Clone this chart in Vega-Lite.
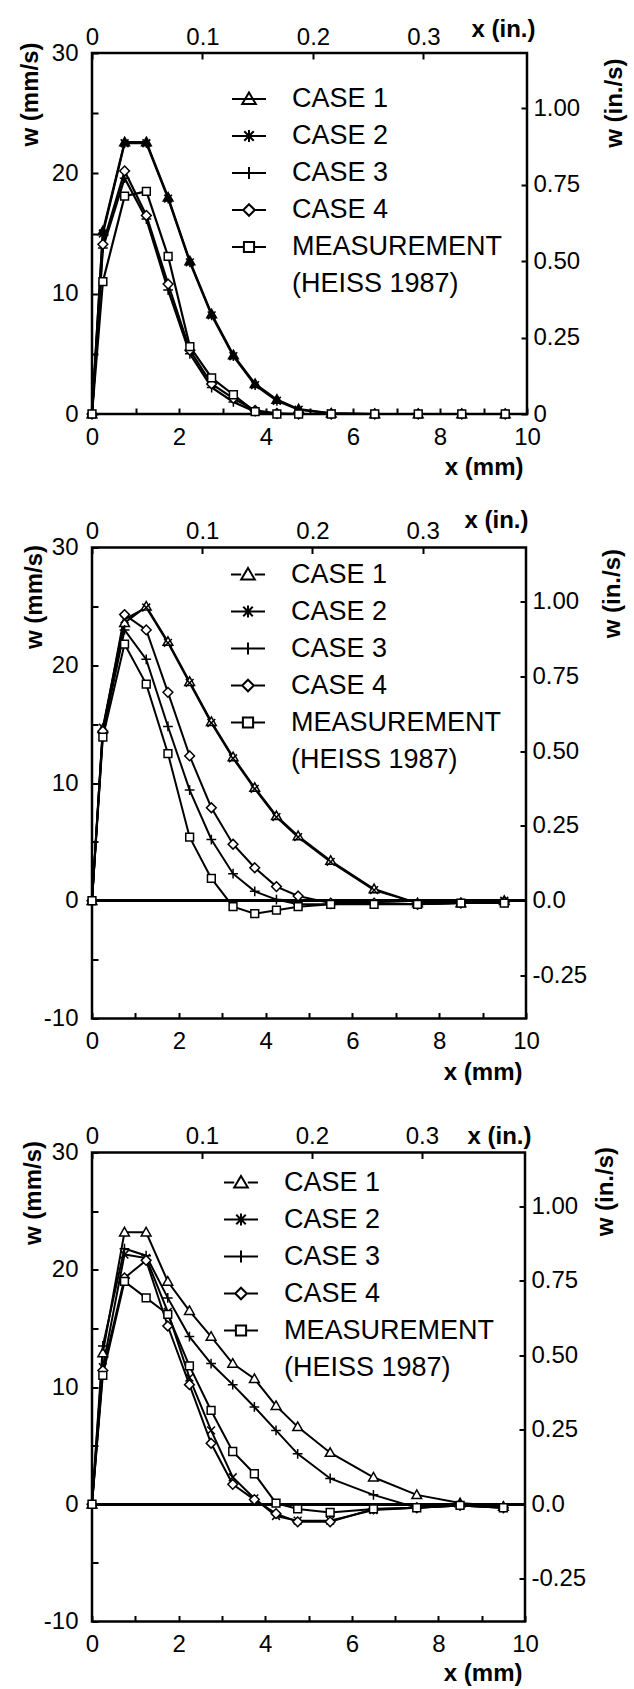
{
  "$schema": "https://vega.github.io/schema/vega-lite/v6.json",
  "background": "white",
  "padding": {"left": 16, "top": 15, "right": 4, "bottom": 4},
  "spacing": 25.5,
  "config": {
    "font": "Liberation Sans",
    "view": {"stroke": "black", "strokeWidth": 2.5},
    "axis": {"labelFont": "Liberation Sans", "labelFontSize": 24, "labelColor": "black", "titleFont": "Liberation Sans", "titleFontSize": 24, "titleFontWeight": "bold", "titleColor": "black", "domain": false, "grid": false, "tickColor": "black", "tickWidth": 2, "tickSize": -6, "labelFlush": false, "labelOverlap": false, "labelBound": false},
    "legend": {"orient": "none", "title": null, "padding": 0, "labelFont": "Liberation Sans", "labelFontSize": 27, "labelColor": "black", "labelLimit": 0, "labelOffset": 25, "rowPadding": 6, "symbolSize": 1156, "symbolStrokeWidth": 2, "symbolStrokeColor": "black"}
  },
  "datasets": {
    "p1": [
      {"x":0,"w":0,"s":"CASE 1"},{"x":0.25,"w":15.2,"s":"CASE 1"},{"x":0.75,"w":22.6,"s":"CASE 1"},{"x":1.25,"w":22.6,"s":"CASE 1"},{"x":1.75,"w":18.0,"s":"CASE 1"},{"x":2.25,"w":12.7,"s":"CASE 1"},{"x":2.75,"w":8.3,"s":"CASE 1"},{"x":3.25,"w":4.9,"s":"CASE 1"},{"x":3.75,"w":2.5,"s":"CASE 1"},{"x":4.25,"w":1.2,"s":"CASE 1"},{"x":4.75,"w":0.4,"s":"CASE 1"},{"x":5.5,"w":0.05,"s":"CASE 1"},{"x":6.5,"w":0,"s":"CASE 1"},{"x":7.5,"w":0,"s":"CASE 1"},{"x":8.5,"w":0,"s":"CASE 1"},{"x":9.5,"w":0,"s":"CASE 1"},
      {"x":0,"w":0,"s":"CASE 2"},{"x":0.25,"w":15.0,"s":"CASE 2"},{"x":0.75,"w":22.5,"s":"CASE 2"},{"x":1.25,"w":22.5,"s":"CASE 2"},{"x":1.75,"w":17.9,"s":"CASE 2"},{"x":2.25,"w":12.6,"s":"CASE 2"},{"x":2.75,"w":8.2,"s":"CASE 2"},{"x":3.25,"w":4.8,"s":"CASE 2"},{"x":3.75,"w":2.4,"s":"CASE 2"},{"x":4.25,"w":1.1,"s":"CASE 2"},{"x":4.75,"w":0.35,"s":"CASE 2"},{"x":5.5,"w":0.05,"s":"CASE 2"},{"x":6.5,"w":0,"s":"CASE 2"},{"x":7.5,"w":0,"s":"CASE 2"},{"x":8.5,"w":0,"s":"CASE 2"},{"x":9.5,"w":0,"s":"CASE 2"},
      {"x":0,"w":0,"s":"CASE 3"},{"x":0.25,"w":13.8,"s":"CASE 3"},{"x":0.75,"w":19.6,"s":"CASE 3"},{"x":1.25,"w":16.2,"s":"CASE 3"},{"x":1.75,"w":10.3,"s":"CASE 3"},{"x":2.25,"w":5.0,"s":"CASE 3"},{"x":2.75,"w":2.2,"s":"CASE 3"},{"x":3.25,"w":1.0,"s":"CASE 3"},{"x":3.75,"w":0.2,"s":"CASE 3"},{"x":4.25,"w":0.02,"s":"CASE 3"},{"x":4.75,"w":0,"s":"CASE 3"},{"x":5.5,"w":0,"s":"CASE 3"},{"x":6.5,"w":0,"s":"CASE 3"},{"x":7.5,"w":0,"s":"CASE 3"},{"x":8.5,"w":0,"s":"CASE 3"},{"x":9.5,"w":0,"s":"CASE 3"},
      {"x":0,"w":0,"s":"CASE 4"},{"x":0.25,"w":14.1,"s":"CASE 4"},{"x":0.75,"w":20.2,"s":"CASE 4"},{"x":1.25,"w":16.5,"s":"CASE 4"},{"x":1.75,"w":10.8,"s":"CASE 4"},{"x":2.25,"w":5.3,"s":"CASE 4"},{"x":2.75,"w":2.5,"s":"CASE 4"},{"x":3.25,"w":1.3,"s":"CASE 4"},{"x":3.75,"w":0.3,"s":"CASE 4"},{"x":4.25,"w":0.05,"s":"CASE 4"},{"x":4.75,"w":0,"s":"CASE 4"},{"x":5.5,"w":0,"s":"CASE 4"},{"x":6.5,"w":0,"s":"CASE 4"},{"x":7.5,"w":0,"s":"CASE 4"},{"x":8.5,"w":0,"s":"CASE 4"},{"x":9.5,"w":0,"s":"CASE 4"},
      {"x":0,"w":0,"s":"MEASUREMENT"},{"x":0.25,"w":11.0,"s":"MEASUREMENT"},{"x":0.75,"w":18.1,"s":"MEASUREMENT"},{"x":1.25,"w":18.5,"s":"MEASUREMENT"},{"x":1.75,"w":13.1,"s":"MEASUREMENT"},{"x":2.25,"w":5.6,"s":"MEASUREMENT"},{"x":2.75,"w":3.0,"s":"MEASUREMENT"},{"x":3.25,"w":1.6,"s":"MEASUREMENT"},{"x":3.75,"w":0.2,"s":"MEASUREMENT"},{"x":4.25,"w":0,"s":"MEASUREMENT"},{"x":4.75,"w":0,"s":"MEASUREMENT"},{"x":5.5,"w":0,"s":"MEASUREMENT"},{"x":6.5,"w":0,"s":"MEASUREMENT"},{"x":7.5,"w":0,"s":"MEASUREMENT"},{"x":8.5,"w":0,"s":"MEASUREMENT"},{"x":9.5,"w":0,"s":"MEASUREMENT"}
    ],
    "p2": [
      {"x":0,"w":0,"s":"CASE 1"},{"x":0.25,"w":14.6,"s":"CASE 1"},{"x":0.75,"w":23.6,"s":"CASE 1"},{"x":1.25,"w":25.0,"s":"CASE 1"},{"x":1.75,"w":22.0,"s":"CASE 1"},{"x":2.25,"w":18.6,"s":"CASE 1"},{"x":2.75,"w":15.2,"s":"CASE 1"},{"x":3.25,"w":12.2,"s":"CASE 1"},{"x":3.75,"w":9.6,"s":"CASE 1"},{"x":4.25,"w":7.2,"s":"CASE 1"},{"x":4.75,"w":5.5,"s":"CASE 1"},{"x":5.5,"w":3.4,"s":"CASE 1"},{"x":6.5,"w":1.0,"s":"CASE 1"},{"x":7.5,"w":-0.2,"s":"CASE 1"},{"x":8.5,"w":-0.2,"s":"CASE 1"},{"x":9.5,"w":0.0,"s":"CASE 1"},
      {"x":0,"w":0,"s":"CASE 2"},{"x":0.25,"w":14.7,"s":"CASE 2"},{"x":0.75,"w":23.9,"s":"CASE 2"},{"x":1.25,"w":24.9,"s":"CASE 2"},{"x":1.75,"w":21.9,"s":"CASE 2"},{"x":2.25,"w":18.5,"s":"CASE 2"},{"x":2.75,"w":15.1,"s":"CASE 2"},{"x":3.25,"w":12.1,"s":"CASE 2"},{"x":3.75,"w":9.5,"s":"CASE 2"},{"x":4.25,"w":7.1,"s":"CASE 2"},{"x":4.75,"w":5.4,"s":"CASE 2"},{"x":5.5,"w":3.3,"s":"CASE 2"},{"x":6.5,"w":0.9,"s":"CASE 2"},{"x":7.5,"w":-0.2,"s":"CASE 2"},{"x":8.5,"w":-0.2,"s":"CASE 2"},{"x":9.5,"w":0.0,"s":"CASE 2"},
      {"x":0,"w":0,"s":"CASE 3"},{"x":0.25,"w":14.2,"s":"CASE 3"},{"x":0.75,"w":23.0,"s":"CASE 3"},{"x":1.25,"w":20.5,"s":"CASE 3"},{"x":1.75,"w":14.8,"s":"CASE 3"},{"x":2.25,"w":9.4,"s":"CASE 3"},{"x":2.75,"w":5.2,"s":"CASE 3"},{"x":3.25,"w":2.3,"s":"CASE 3"},{"x":3.75,"w":0.8,"s":"CASE 3"},{"x":4.25,"w":0.1,"s":"CASE 3"},{"x":4.75,"w":-0.3,"s":"CASE 3"},{"x":5.5,"w":-0.3,"s":"CASE 3"},{"x":6.5,"w":-0.2,"s":"CASE 3"},{"x":7.5,"w":-0.3,"s":"CASE 3"},{"x":8.5,"w":-0.2,"s":"CASE 3"},{"x":9.5,"w":-0.1,"s":"CASE 3"},
      {"x":0,"w":0,"s":"CASE 4"},{"x":0.25,"w":14.4,"s":"CASE 4"},{"x":0.75,"w":24.3,"s":"CASE 4"},{"x":1.25,"w":23.0,"s":"CASE 4"},{"x":1.75,"w":17.7,"s":"CASE 4"},{"x":2.25,"w":12.3,"s":"CASE 4"},{"x":2.75,"w":7.9,"s":"CASE 4"},{"x":3.25,"w":4.8,"s":"CASE 4"},{"x":3.75,"w":2.8,"s":"CASE 4"},{"x":4.25,"w":1.2,"s":"CASE 4"},{"x":4.75,"w":0.4,"s":"CASE 4"},{"x":5.5,"w":-0.2,"s":"CASE 4"},{"x":6.5,"w":-0.2,"s":"CASE 4"},{"x":7.5,"w":-0.3,"s":"CASE 4"},{"x":8.5,"w":-0.2,"s":"CASE 4"},{"x":9.5,"w":-0.1,"s":"CASE 4"},
      {"x":0,"w":0,"s":"MEASUREMENT"},{"x":0.25,"w":13.9,"s":"MEASUREMENT"},{"x":0.75,"w":21.8,"s":"MEASUREMENT"},{"x":1.25,"w":18.4,"s":"MEASUREMENT"},{"x":1.75,"w":12.5,"s":"MEASUREMENT"},{"x":2.25,"w":5.4,"s":"MEASUREMENT"},{"x":2.75,"w":1.9,"s":"MEASUREMENT"},{"x":3.25,"w":-0.5,"s":"MEASUREMENT"},{"x":3.75,"w":-1.1,"s":"MEASUREMENT"},{"x":4.25,"w":-0.8,"s":"MEASUREMENT"},{"x":4.75,"w":-0.5,"s":"MEASUREMENT"},{"x":5.5,"w":-0.3,"s":"MEASUREMENT"},{"x":6.5,"w":-0.3,"s":"MEASUREMENT"},{"x":7.5,"w":-0.3,"s":"MEASUREMENT"},{"x":8.5,"w":-0.2,"s":"MEASUREMENT"},{"x":9.5,"w":-0.2,"s":"MEASUREMENT"}
    ],
    "p3": [
      {"x":0,"w":0,"s":"CASE 1"},{"x":0.25,"w":12.9,"s":"CASE 1"},{"x":0.75,"w":23.2,"s":"CASE 1"},{"x":1.25,"w":23.2,"s":"CASE 1"},{"x":1.75,"w":19.0,"s":"CASE 1"},{"x":2.25,"w":16.5,"s":"CASE 1"},{"x":2.75,"w":14.3,"s":"CASE 1"},{"x":3.25,"w":12.0,"s":"CASE 1"},{"x":3.75,"w":10.7,"s":"CASE 1"},{"x":4.25,"w":8.4,"s":"CASE 1"},{"x":4.75,"w":6.6,"s":"CASE 1"},{"x":5.5,"w":4.4,"s":"CASE 1"},{"x":6.5,"w":2.3,"s":"CASE 1"},{"x":7.5,"w":0.8,"s":"CASE 1"},{"x":8.5,"w":0.1,"s":"CASE 1"},{"x":9.5,"w":-0.2,"s":"CASE 1"},
      {"x":0,"w":0,"s":"CASE 2"},{"x":0.25,"w":11.7,"s":"CASE 2"},{"x":0.75,"w":21.3,"s":"CASE 2"},{"x":1.25,"w":21.0,"s":"CASE 2"},{"x":1.75,"w":16.4,"s":"CASE 2"},{"x":2.25,"w":10.8,"s":"CASE 2"},{"x":2.75,"w":6.3,"s":"CASE 2"},{"x":3.25,"w":2.3,"s":"CASE 2"},{"x":3.75,"w":0.5,"s":"CASE 2"},{"x":4.25,"w":-1.0,"s":"CASE 2"},{"x":4.75,"w":-1.4,"s":"CASE 2"},{"x":5.5,"w":-1.4,"s":"CASE 2"},{"x":6.5,"w":-0.5,"s":"CASE 2"},{"x":7.5,"w":-0.3,"s":"CASE 2"},{"x":8.5,"w":-0.1,"s":"CASE 2"},{"x":9.5,"w":-0.3,"s":"CASE 2"},
      {"x":0,"w":0,"s":"CASE 3"},{"x":0.25,"w":13.5,"s":"CASE 3"},{"x":0.75,"w":21.8,"s":"CASE 3"},{"x":1.25,"w":21.2,"s":"CASE 3"},{"x":1.75,"w":17.6,"s":"CASE 3"},{"x":2.25,"w":14.3,"s":"CASE 3"},{"x":2.75,"w":12.0,"s":"CASE 3"},{"x":3.25,"w":10.2,"s":"CASE 3"},{"x":3.75,"w":8.3,"s":"CASE 3"},{"x":4.25,"w":6.3,"s":"CASE 3"},{"x":4.75,"w":4.3,"s":"CASE 3"},{"x":5.5,"w":2.2,"s":"CASE 3"},{"x":6.5,"w":0.8,"s":"CASE 3"},{"x":7.5,"w":-0.3,"s":"CASE 3"},{"x":8.5,"w":0.0,"s":"CASE 3"},{"x":9.5,"w":-0.2,"s":"CASE 3"},
      {"x":0,"w":0,"s":"CASE 4"},{"x":0.25,"w":11.4,"s":"CASE 4"},{"x":0.75,"w":19.3,"s":"CASE 4"},{"x":1.25,"w":20.8,"s":"CASE 4"},{"x":1.75,"w":15.2,"s":"CASE 4"},{"x":2.25,"w":10.2,"s":"CASE 4"},{"x":2.75,"w":5.2,"s":"CASE 4"},{"x":3.25,"w":1.7,"s":"CASE 4"},{"x":3.75,"w":0.4,"s":"CASE 4"},{"x":4.25,"w":-0.8,"s":"CASE 4"},{"x":4.75,"w":-1.5,"s":"CASE 4"},{"x":5.5,"w":-1.5,"s":"CASE 4"},{"x":6.5,"w":-0.4,"s":"CASE 4"},{"x":7.5,"w":-0.3,"s":"CASE 4"},{"x":8.5,"w":-0.1,"s":"CASE 4"},{"x":9.5,"w":-0.3,"s":"CASE 4"},
      {"x":0,"w":0,"s":"MEASUREMENT"},{"x":0.25,"w":11.0,"s":"MEASUREMENT"},{"x":0.75,"w":19.0,"s":"MEASUREMENT"},{"x":1.25,"w":17.6,"s":"MEASUREMENT"},{"x":1.75,"w":16.2,"s":"MEASUREMENT"},{"x":2.25,"w":11.8,"s":"MEASUREMENT"},{"x":2.75,"w":8.0,"s":"MEASUREMENT"},{"x":3.25,"w":4.5,"s":"MEASUREMENT"},{"x":3.75,"w":2.6,"s":"MEASUREMENT"},{"x":4.25,"w":0.1,"s":"MEASUREMENT"},{"x":4.75,"w":-0.4,"s":"MEASUREMENT"},{"x":5.5,"w":-0.7,"s":"MEASUREMENT"},{"x":6.5,"w":-0.4,"s":"MEASUREMENT"},{"x":7.5,"w":-0.3,"s":"MEASUREMENT"},{"x":8.5,"w":-0.1,"s":"MEASUREMENT"},{"x":9.5,"w":-0.3,"s":"MEASUREMENT"}
    ]
  },
  "vconcat": [
    {
      "width": 435, "height": 361,
      "data": {"name": "p1"},
      "layer": [
        {
          "mark": {"type": "line", "stroke": "black", "strokeWidth": 2.2},
          "encoding": {
            "x": {"field": "x", "type": "quantitative", "scale": {"domain": [0, 10], "nice": false}, "axis": {"orient": "bottom", "values": [0,1,2,3,4,5,6,7,8,9,10], "labelExpr": "datum.value % 2 == 0 ? datum.label : ''", "labelPadding": 17, "title": "x (mm)", "titleX": 431, "titleY": 60, "titleAlign": "right", "titleBaseline": "alphabetic", "titleAngle": 0}},
            "y": {"field": "w", "type": "quantitative", "scale": {"domain": [0, 30], "nice": false, "zero": false}, "axis": {"orient": "left", "values": [0,5,10,15,20,25,30], "labelExpr": "datum.value % 10 == 0 ? replace(datum.label, '\u2212', '-') : ''", "labelPadding": 20, "title": "w (mm/s)", "titleAngle": -90, "titleX": -50, "titleY": -11, "titleAlign": "right", "titleBaseline": "bottom"}},
            "detail": {"field": "s"}
          }
        },
        {
          "mark": {"type": "point", "filled": true, "stroke": "black", "strokeWidth": 1.5, "size": 95, "opacity": 1},
          "encoding": {
            "x": {"field": "x", "type": "quantitative", "axis": null},
            "y": {"field": "w", "type": "quantitative", "axis": null},
            "shape": {"field": "s", "legend": null, "scale": {"domain": ["CASE 1","CASE 2","CASE 3","CASE 4","MEASUREMENT"], "range": ["M0,-1L1,0.75L-1,0.75Z", "M-0.8,-0.8L0.8,0.8M0.8,-0.8L-0.8,0.8M0,-1V1", "M0,-1V1M-1,0H1", "M0,-1L1,0L0,1L-1,0Z", "M-0.8,-0.8H0.8V0.8H-0.8Z"]}},
            "fill": {"field": "s", "legend": null, "scale": {"domain": ["CASE 1","CASE 2","CASE 3","CASE 4","MEASUREMENT"], "range": ["black", "black", "white", "white", "white"]}}
          }
        },
        {
          "mark": {"type": "point", "filled": false, "stroke": "black", "color": "black", "opacity": 0},
          "encoding": {
            "x": {"field": "x", "type": "quantitative", "axis": {"orient": "top", "values": [0, 2.54, 5.08, 7.62], "labelExpr": "datum.value == 0 ? '0' : format(datum.value / 25.4, '.1f')", "labelPadding": 10, "title": "x (in.)", "titleX": 443, "titleY": -17, "titleAlign": "right", "titleBaseline": "alphabetic"}},
            "y": {"field": "w", "type": "quantitative", "axis": {"orient": "right", "values": [0, 6.35, 12.7, 19.05, 25.4], "labelExpr": "datum.value == 0 ? '0' : format(datum.value / 25.4, '.2f')", "labelPadding": 12, "title": "w (in./s)", "titleAngle": -90, "titleX": 99, "titleY": 5, "titleAlign": "right", "titleBaseline": "bottom"}},
            "shape": {"field": "s", "scale": {"domain": ["CASE 1","CASE 2","CASE 3","CASE 4","MEASUREMENT","(HEISS 1987)"], "range": ["M-1,0H1M0,-0.38L0.4,0.3L-0.4,0.3Z", "M-1,0H1M-0.28,-0.28L0.28,0.28M0.28,-0.28L-0.28,0.28M0,-0.36V0.36", "M-1,0H1M0,-0.36V0.36", "M-1,0H-0.34M0.34,0H1M0,-0.34L0.34,0L0,0.34L-0.34,0Z", "M-1,0H-0.3M0.3,0H1M-0.3,-0.3H0.3V0.3H-0.3Z", "M0,0"]},
              "legend": {"legendX": 139, "legendY": 28, "encode": {"symbols": {"update": {"opacity": {"value": 1}, "stroke": {"value": "black"}, "strokeWidth": {"value": 2}, "fill": {"signal": "datum.value == 'CASE 1' ? 'black' : 'white'"}}}}}}
          }
        }
      ],
      "resolve": {"scale": {"shape": "independent", "fill": "independent"}, "axis": {"x": "independent", "y": "independent"}}
    },
    {
      "spacing": 36,
      "vconcat": [
        {
          "width": 434, "height": 471,
          "data": {"name": "p2"},
          "layer": [
            {
              "mark": {"type": "rule", "stroke": "black", "strokeWidth": 2},
              "encoding": {"y": {"datum": 0, "type": "quantitative", "axis": null}}
            },
            {
              "mark": {"type": "line", "stroke": "black", "strokeWidth": 2},
              "encoding": {
                "x": {"field": "x", "type": "quantitative", "scale": {"domain": [0, 10], "nice": false}, "axis": {"orient": "bottom", "values": [0,1,2,3,4,5,6,7,8,9,10], "labelExpr": "datum.value % 2 == 0 ? datum.label : ''", "labelPadding": 17, "title": "x (mm)", "titleX": 430, "titleY": 61, "titleAlign": "right", "titleBaseline": "alphabetic", "titleAngle": 0}},
                "y": {"field": "w", "type": "quantitative", "scale": {"domain": [-10, 30], "nice": false, "zero": false}, "axis": {"orient": "left", "values": [-10,-5,0,5,10,15,20,25,30], "labelExpr": "datum.value % 10 == 0 ? replace(datum.label, '\u2212', '-') : ''", "labelPadding": 20, "title": "w (mm/s)", "titleAngle": -90, "titleX": -46, "titleY": -3, "titleAlign": "right", "titleBaseline": "bottom"}},
                "detail": {"field": "s"}
              }
            },
            {
              "mark": {"type": "point", "filled": true, "stroke": "black", "strokeWidth": 1.5, "size": 95, "opacity": 1},
              "encoding": {
                "x": {"field": "x", "type": "quantitative", "axis": null},
                "y": {"field": "w", "type": "quantitative", "axis": null},
                "shape": {"field": "s", "legend": null, "scale": {"domain": ["CASE 1","CASE 2","CASE 3","CASE 4","MEASUREMENT"], "range": ["M0,-1L1,0.75L-1,0.75Z", "M-0.8,-0.8L0.8,0.8M0.8,-0.8L-0.8,0.8", "M0,-1V1M-1,0H1", "M0,-1L1,0L0,1L-1,0Z", "M-0.8,-0.8H0.8V0.8H-0.8Z"]}},
                "fill": {"field": "s", "legend": null, "scale": {"domain": ["CASE 1","CASE 2","CASE 3","CASE 4","MEASUREMENT"], "range": ["white", "white", "white", "white", "white"]}}
              }
            },
            {
              "mark": {"type": "point", "filled": false, "stroke": "black", "color": "black", "opacity": 0},
              "encoding": {
                "x": {"field": "x", "type": "quantitative", "axis": {"orient": "top", "values": [0, 2.54, 5.08, 7.62], "labelExpr": "datum.value == 0 ? '0' : format(datum.value / 25.4, '.1f')", "labelPadding": 10, "title": "x (in.)", "titleX": 436, "titleY": -20, "titleAlign": "right", "titleBaseline": "alphabetic"}},
                "y": {"field": "w", "type": "quantitative", "axis": {"orient": "right", "values": [-6.35, 0, 6.35, 12.7, 19.05, 25.4], "labelExpr": "datum.value == 0 ? '0.0' : replace(format(datum.value / 25.4, '.2f'), '\u2212', '-')", "labelPadding": 12, "title": "w (in./s)", "titleAngle": -90, "titleX": 98, "titleY": 1, "titleAlign": "right", "titleBaseline": "bottom"}},
                "shape": {"field": "s", "scale": {"domain": ["CASE 1","CASE 2","CASE 3","CASE 4","MEASUREMENT","(HEISS 1987)"], "range": ["M-1,0H-0.4M0.4,0H1M0,-0.38L0.4,0.3L-0.4,0.3Z", "M-1,0H1M-0.28,-0.28L0.28,0.28M0.28,-0.28L-0.28,0.28M0,-0.36V0.36", "M-1,0H1M0,-0.36V0.36", "M-1,0H-0.34M0.34,0H1M0,-0.34L0.34,0L0,0.34L-0.34,0Z", "M-1,0H-0.3M0.3,0H1M-0.3,-0.3H0.3V0.3H-0.3Z", "M0,0"]},
                  "legend": {"legendX": 138, "legendY": 9, "encode": {"symbols": {"update": {"opacity": {"value": 1}, "stroke": {"value": "black"}, "strokeWidth": {"value": 2}, "fill": {"value": "white"}}}}}}
              }
            }
          ],
          "resolve": {"scale": {"shape": "independent", "fill": "independent"}, "axis": {"x": "independent", "y": "independent"}}
        },
        {
          "width": 433, "height": 469,
          "data": {"name": "p3"},
          "layer": [
            {
              "mark": {"type": "rule", "stroke": "black", "strokeWidth": 2},
              "encoding": {"y": {"datum": 0, "type": "quantitative", "axis": null}}
            },
            {
              "mark": {"type": "line", "stroke": "black", "strokeWidth": 2},
              "encoding": {
                "x": {"field": "x", "type": "quantitative", "scale": {"domain": [0, 10], "nice": false}, "axis": {"orient": "bottom", "values": [0,1,2,3,4,5,6,7,8,9,10], "labelExpr": "datum.value % 2 == 0 ? datum.label : ''", "labelPadding": 17, "title": "x (mm)", "titleX": 430, "titleY": 59, "titleAlign": "right", "titleBaseline": "alphabetic", "titleAngle": 0}},
                "y": {"field": "w", "type": "quantitative", "scale": {"domain": [-10, 30], "nice": false, "zero": false}, "axis": {"orient": "left", "values": [-10,-5,0,5,10,15,20,25,30], "labelExpr": "datum.value % 10 == 0 ? replace(datum.label, '\u2212', '-') : ''", "labelPadding": 20, "title": "w (mm/s)", "titleAngle": -90, "titleX": -47, "titleY": -12, "titleAlign": "right", "titleBaseline": "bottom"}},
                "detail": {"field": "s"}
              }
            },
            {
              "mark": {"type": "point", "filled": true, "stroke": "black", "strokeWidth": 1.5, "size": 95, "opacity": 1},
              "encoding": {
                "x": {"field": "x", "type": "quantitative", "axis": null},
                "y": {"field": "w", "type": "quantitative", "axis": null},
                "shape": {"field": "s", "legend": null, "scale": {"domain": ["CASE 1","CASE 2","CASE 3","CASE 4","MEASUREMENT"], "range": ["M0,-1L1,0.75L-1,0.75Z", "M-0.8,-0.8L0.8,0.8M0.8,-0.8L-0.8,0.8", "M0,-1V1M-1,0H1", "M0,-1L1,0L0,1L-1,0Z", "M-0.8,-0.8H0.8V0.8H-0.8Z"]}},
                "fill": {"field": "s", "legend": null, "scale": {"domain": ["CASE 1","CASE 2","CASE 3","CASE 4","MEASUREMENT"], "range": ["white", "white", "white", "white", "white"]}}
              }
            },
            {
              "mark": {"type": "point", "filled": false, "stroke": "black", "color": "black", "opacity": 0},
              "encoding": {
                "x": {"field": "x", "type": "quantitative", "axis": {"orient": "top", "values": [0, 2.54, 5.08, 7.62], "labelExpr": "datum.value == 0 ? '0' : format(datum.value / 25.4, '.1f')", "labelPadding": 10, "title": "x (in.)", "titleX": 439, "titleY": -9, "titleAlign": "right", "titleBaseline": "alphabetic"}},
                "y": {"field": "w", "type": "quantitative", "axis": {"orient": "right", "values": [-6.35, 0, 6.35, 12.7, 19.05, 25.4], "labelExpr": "datum.value == 0 ? '0.0' : replace(format(datum.value / 25.4, '.2f'), '\u2212', '-')", "labelPadding": 12, "title": "w (in./s)", "titleAngle": -90, "titleX": 92, "titleY": -6, "titleAlign": "right", "titleBaseline": "bottom"}},
                "shape": {"field": "s", "scale": {"domain": ["CASE 1","CASE 2","CASE 3","CASE 4","MEASUREMENT","(HEISS 1987)"], "range": ["M-1,0H-0.4M0.4,0H1M0,-0.38L0.4,0.3L-0.4,0.3Z", "M-1,0H1M-0.28,-0.28L0.28,0.28M0.28,-0.28L-0.28,0.28M0,-0.36V0.36", "M-1,0H1M0,-0.36V0.36", "M-1,0H-0.34M0.34,0H1M0,-0.34L0.34,0L0,0.34L-0.34,0Z", "M-1,0H-0.3M0.3,0H1M-0.3,-0.3H0.3V0.3H-0.3Z", "M0,0"]},
                  "legend": {"legendX": 131, "legendY": 12, "encode": {"symbols": {"update": {"opacity": {"value": 1}, "stroke": {"value": "black"}, "strokeWidth": {"value": 2}, "fill": {"value": "white"}}}}}}
              }
            }
          ],
          "resolve": {"scale": {"shape": "independent", "fill": "independent"}, "axis": {"x": "independent", "y": "independent"}}
        }
      ]
    }
  ]
}
